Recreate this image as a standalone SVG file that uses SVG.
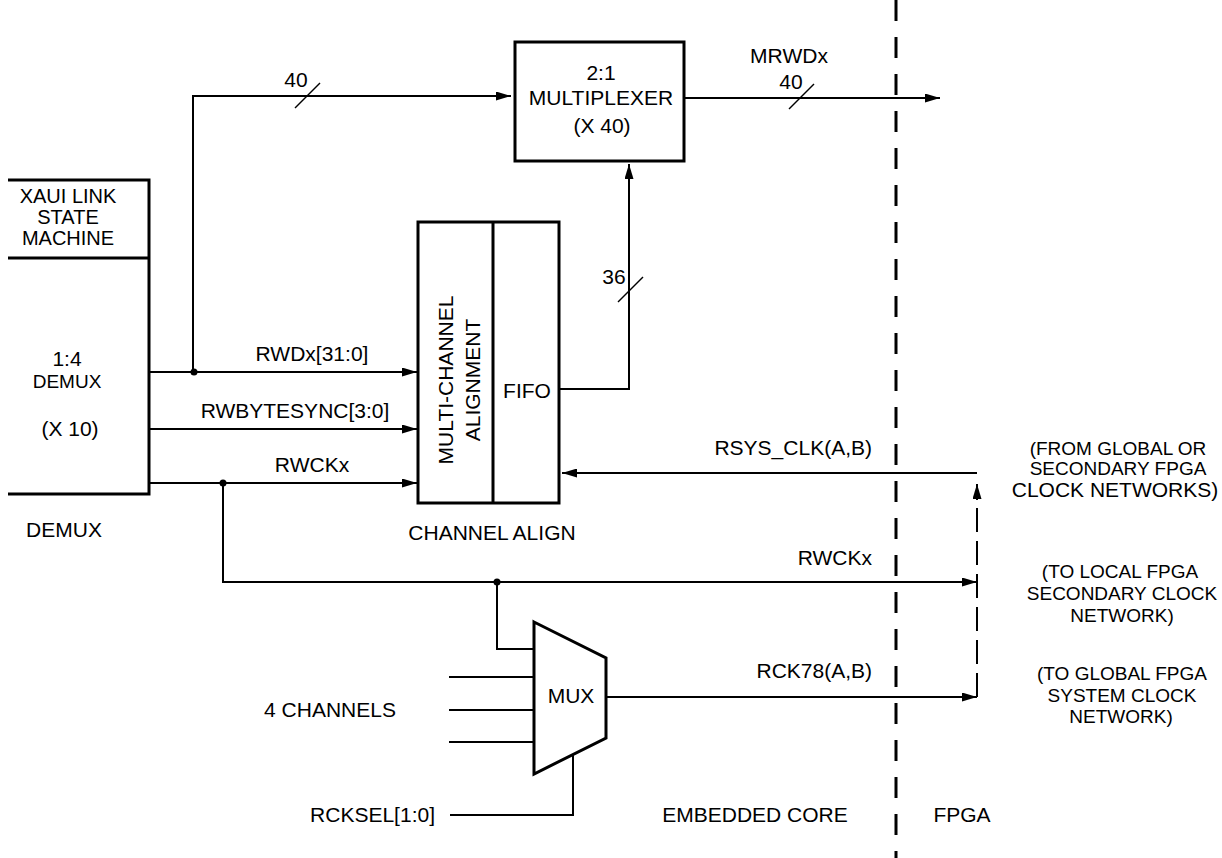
<svg xmlns="http://www.w3.org/2000/svg" width="1222" height="858" viewBox="0 0 1222 858">
<defs>
<marker id="ah" viewBox="0 0 15 9" refX="15" refY="4.5" markerWidth="15" markerHeight="9" orient="auto-start-reverse" markerUnits="userSpaceOnUse"><path d="M0,0 L15,4.5 L0,9 z" fill="#000"/></marker>
</defs>
<style>
text{font-family:"Liberation Sans",Arial,sans-serif;font-size:21px;fill:#000}
.c{text-anchor:middle}
.e{text-anchor:end}
.s{font-size:19px}
.t{font-size:20px}
.box{fill:none;stroke:#000;stroke-width:3}
.w{fill:none;stroke:#000;stroke-width:2}
.dot{fill:#000}
.slash{stroke:#000;stroke-width:1.5}
.bnd{stroke:#000;stroke-width:3;stroke-dasharray:21 16;fill:none}
.thin{stroke:#000;stroke-width:2;stroke-dasharray:24 9;fill:none}
</style>
<rect width="1222" height="858" fill="#fff"/>

<g id="demux">
<path class="box" d="M8,180 H149 V494 H8 M8,258 H149"/>
<text class="c t" x="68" y="203">XAUI LINK</text>
<text class="c t" x="68" y="224">STATE</text>
<text class="c t" x="68" y="245">MACHINE</text>
<text class="c" x="67" y="366">1:4</text>
<text class="c s" x="67" y="388">DEMUX</text>
<text class="c" x="70" y="436">(X 10)</text>
<text class="c" x="64" y="537">DEMUX</text>
</g>

<g id="multiplexer">
<rect class="box" x="515" y="42" width="169" height="119"/>
<text class="c" x="601" y="80">2:1</text>
<text class="c" x="601" y="105">MULTIPLEXER</text>
<text class="c" x="602" y="133">(X 40)</text>
</g>

<g id="channel-align">
<rect class="box" x="418" y="222" width="141" height="281"/>
<line class="box" x1="493" y1="222" x2="493" y2="503"/>
<text class="c" transform="translate(453,380) rotate(-90)">MULTI-CHANNEL</text>
<text class="c" transform="translate(480,380) rotate(-90)">ALIGNMENT</text>
<text class="c" x="527" y="398">FIFO</text>
<text class="c" x="492" y="540">CHANNEL ALIGN</text>
</g>

<g id="mux">
<path class="box" d="M534,622 L606,658 L606,738 L534,774 Z"/>
<text class="c" x="571" y="703">MUX</text>
</g>

<g id="boundary">
<line class="bnd" x1="896" y1="0" x2="896" y2="858"/>
<text class="c" x="755" y="822">EMBEDDED CORE</text>
<text class="c" x="962" y="822">FPGA</text>
</g>

<g id="fpga-notes">
<text class="c s" x="1118" y="455">(FROM GLOBAL OR</text>
<text class="c s" x="1118" y="475">SECONDARY FPGA</text>
<text class="c" x="1115" y="497">CLOCK NETWORKS)</text>
<text class="c s" x="1120" y="578">(TO LOCAL FPGA</text>
<text class="c s" x="1122" y="600">SECONDARY CLOCK</text>
<text class="c s" x="1122" y="622">NETWORK)</text>
<text class="c s" x="1122" y="680">(TO GLOBAL FPGA</text>
<text class="c s" x="1122" y="702">SYSTEM CLOCK</text>
<text class="c s" x="1121" y="723">NETWORK)</text>
</g>

<g id="connectors">
<path class="w" d="M193,372 V96 H511" marker-end="url(#ah)"/>
<line class="slash" x1="295" y1="108" x2="320" y2="83"/>
<text class="c" x="296" y="87">40</text>

<path class="w" d="M684,98 H940" marker-end="url(#ah)"/>
<line class="slash" x1="789" y1="109" x2="814" y2="84"/>
<text class="c" x="789" y="63">MRWDx</text>
<text class="c" x="791" y="89">40</text>

<path class="w" d="M559,389 H629 V164" marker-end="url(#ah)"/>
<line class="slash" x1="618" y1="302" x2="643" y2="277"/>
<text class="c" x="614" y="284">36</text>

<path class="w" d="M149,372 H417" marker-end="url(#ah)"/>
<circle class="dot" cx="194" cy="372" r="3.5"/>
<text class="c" x="312" y="361">RWDx[31:0]</text>
<path class="w" d="M149,429 H417" marker-end="url(#ah)"/>
<text class="c" x="295" y="418">RWBYTESYNC[3:0]</text>
<path class="w" d="M149,483 H417" marker-end="url(#ah)"/>
<circle class="dot" cx="223" cy="483" r="3.5"/>
<text class="c" x="312" y="472">RWCKx</text>

<path class="w" d="M977,473 H562" marker-end="url(#ah)"/>
<text class="e" x="872" y="455">RSYS_CLK(A,B)</text>

<path class="w" d="M223,483 V582 H977" marker-end="url(#ah)"/>
<circle class="dot" cx="497" cy="582" r="3.5"/>
<text class="e" x="872" y="565">RWCKx</text>
<path class="w" d="M497,582 V649 H534"/>

<path class="w" d="M449,677 H534 M449,710 H534 M449,742 H534"/>
<text class="c" x="330" y="717">4 CHANNELS</text>
<path class="w" d="M450,815 H573 V755"/>
<text class="e" x="435" y="822">RCKSEL[1:0]</text>

<path class="w" d="M606,697 H977" marker-end="url(#ah)"/>
<text class="e" x="872" y="678">RCK78(A,B)</text>

<path class="thin" d="M977,697 V500"/>
<path class="w" d="M977,500 V484" marker-end="url(#ah)"/>
</g>
</svg>
